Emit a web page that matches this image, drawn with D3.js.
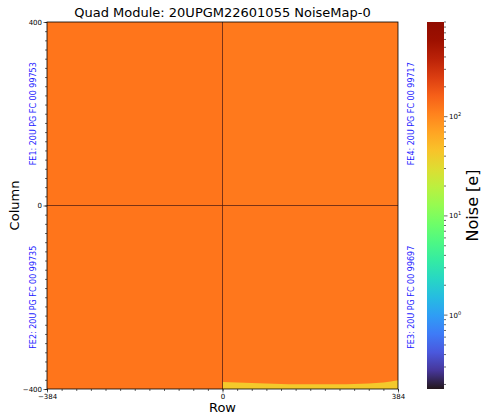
<!DOCTYPE html>
<html>
<head>
<meta charset="utf-8">
<script src="https://cdn.jsdelivr.net/npm/d3@7"></script>
<style>
  body { margin: 0; background: #fff; }
  text { font-family: "DejaVu Sans", sans-serif; }
</style>
</head>
<body>
<svg id="chart" width="483" height="414"></svg>
<script>
// chips (front ends) with their mean noise, in [e]
const chips = ["FE1", "FE4", "FE2", "FE3"];
const chipLabels = ["FE1: 20U PG FC 00 99753", "FE4: 20U PG FC 00 99717",
                    "FE2: 20U PG FC 00 99735", "FE3: 20U PG FC 00 99697"];
const chipCols = [[-384, 0], [0, 384], [-384, 0], [0, 384]];
const chipRows = [[0, 400], [0, 400], [-400, 0], [-400, 0]];
const chipNoise = [125, 120, 125, 122];

// low-noise band along the bottom edge of FE3 (rows above -400)
const bandCols = [0, 32, 64, 96, 128, 160, 192, 224, 256, 288, 320, 352, 384];
const bandRows = [15, 14, 13, 12, 11, 10.5, 10.5, 10.5, 10.5, 11, 12, 14, 19];
const bandNoise = 42;

const xTicks = [-384, 0, 384];
const yTicks = [-400, 0, 400];
const cbTicks = [1, 10, 100];
const cbDomain = [0.18, 900];

const svg = d3.select("#chart");
const plot = { left: 47, right: 398, top: 22, bottom: 389 };

const x = d3.scaleLinear().domain([-384, 384]).range([plot.left, plot.right]);
const y = d3.scaleLinear().domain([-400, 400]).range([plot.bottom, plot.top]);
const logC = d3.scaleLog().domain(cbDomain).range([0, 1]);
const color = v => d3.interpolateTurbo(logC(v));

// quadrants
svg.append("g").selectAll("rect")
  .data(chips)
  .join("rect")
  .attr("x", (d, i) => x(chipCols[i][0]))
  .attr("y", (d, i) => y(chipRows[i][1]))
  .attr("width", (d, i) => x(chipCols[i][1]) - x(chipCols[i][0]))
  .attr("height", (d, i) => y(chipRows[i][0]) - y(chipRows[i][1]))
  .attr("fill", (d, i) => color(chipNoise[i]));

// bottom band
const band = d3.area()
  .x((d, i) => x(bandCols[i]))
  .y0(y(-400))
  .y1((d, i) => y(-400 + bandRows[i]))
  .curve(d3.curveMonotoneX);
svg.append("path")
  .datum(bandCols)
  .attr("d", band)
  .attr("fill", color(bandNoise));

// chip borders
svg.append("line")
  .attr("x1", x(0)).attr("x2", x(0)).attr("y1", plot.top).attr("y2", plot.bottom)
  .attr("stroke", "#5a1a05").attr("stroke-opacity", 0.8).attr("stroke-width", 1);
svg.append("line")
  .attr("x1", plot.left).attr("x2", plot.right).attr("y1", y(0)).attr("y2", y(0))
  .attr("stroke", "#5a1a05").attr("stroke-opacity", 0.8).attr("stroke-width", 1);

// axes
svg.append("g")
  .attr("transform", `translate(0,${plot.bottom})`)
  .call(d3.axisBottom(x).tickValues(xTicks).tickSize(3.5).tickPadding(1.5)
    .tickFormat(d => d < 0 ? "\u2212" + Math.abs(d) : d));
svg.append("g")
  .attr("transform", `translate(${plot.left},0)`)
  .call(d3.axisLeft(y).tickValues(yTicks).tickSize(3.5).tickPadding(1.5)
    .tickFormat(d => d < 0 ? "\u2212" + Math.abs(d) : d));
svg.append("g")
  .attr("transform", `translate(0,${plot.bottom})`)
  .call(d3.axisBottom(x).tickValues(d3.range(-384, 385, 32)).tickSize(2).tickFormat(""));
svg.append("g")
  .attr("transform", `translate(${plot.left},0)`)
  .call(d3.axisLeft(y).tickValues(d3.range(-400, 401, 20)).tickSize(2).tickFormat(""));
svg.selectAll(".domain").remove();
svg.selectAll(".tick line").attr("stroke", "#000").attr("stroke-width", 0.6);
svg.selectAll(".tick text").attr("font-size", 7).attr("fill", "#000")
  .style("font-family", "DejaVu Sans");

svg.append("rect")
  .attr("x", plot.left).attr("y", plot.top)
  .attr("width", plot.right - plot.left).attr("height", plot.bottom - plot.top)
  .attr("fill", "none").attr("stroke", "#000").attr("stroke-width", 0.8);

// chip labels
const labelX = [33, 411, 33, 411];
const labelRow = [200, 200, -200, -200];
svg.append("g").selectAll("text")
  .data(chipLabels)
  .join("text")
  .attr("transform", (d, i) => `translate(${labelX[i]},${y(labelRow[i])}) rotate(-90)`)
  .attr("text-anchor", "middle")
  .attr("dominant-baseline", "middle")
  .attr("font-size", 8)
  .attr("fill", "#1a1aff")
  .text(d => d);

// titles
svg.append("text")
  .attr("x", (plot.left + plot.right) / 2).attr("y", 17)
  .attr("text-anchor", "middle").attr("font-size", 13)
  .text("Quad Module: 20UPGM22601055 NoiseMap-0");
svg.append("text")
  .attr("x", (plot.left + plot.right) / 2).attr("y", 412)
  .attr("text-anchor", "middle").attr("font-size", 13)
  .text("Row");
svg.append("text")
  .attr("transform", `translate(19,${y(0)}) rotate(-90)`)
  .attr("text-anchor", "middle").attr("font-size", 13)
  .text("Column");

// colour bar
const cb = { left: 427, right: 444, top: 22, bottom: 389 };
const cbScale = d3.scaleLog().domain(cbDomain).range([cb.bottom, cb.top]);
const grad = svg.append("defs").append("linearGradient")
  .attr("id", "turbo").attr("x1", 0).attr("y1", 1).attr("x2", 0).attr("y2", 0);
d3.range(0, 1.0001, 0.05).forEach(t => {
  grad.append("stop").attr("offset", t).attr("stop-color", d3.interpolateTurbo(t));
});
svg.append("rect")
  .attr("x", cb.left).attr("y", cb.top)
  .attr("width", cb.right - cb.left).attr("height", cb.bottom - cb.top)
  .attr("fill", "url(#turbo)");

const minor = [];
[0.1, 1, 10, 100].forEach(dec => {
  for (let k = 2; k <= 9; k++) {
    const v = dec * k;
    if (v >= cbDomain[0] && v <= cbDomain[1]) minor.push(v);
  }
});
svg.append("g").selectAll("line")
  .data(minor)
  .join("line")
  .attr("x1", cb.right).attr("x2", cb.right + 2)
  .attr("y1", d => cbScale(d)).attr("y2", d => cbScale(d))
  .attr("stroke", "#000").attr("stroke-width", 0.6);
const major = svg.append("g").selectAll("g")
  .data(cbTicks)
  .join("g")
  .attr("transform", d => `translate(${cb.right},${cbScale(d)})`);
major.append("line").attr("x2", 3.5).attr("stroke", "#000").attr("stroke-width", 0.6);
const mt = major.append("text")
  .attr("x", 5).attr("dy", "0.35em").attr("font-size", 7);
mt.append("tspan").text("10");
mt.append("tspan").attr("dy", -3).attr("font-size", 5).text(d => Math.round(Math.log10(d)));

svg.append("text")
  .attr("transform", `translate(478,${(cb.top + cb.bottom) / 2}) rotate(-90)`)
  .attr("text-anchor", "middle").attr("font-size", 16)
  .text("Noise [e]");
</script>
</body>
</html>
